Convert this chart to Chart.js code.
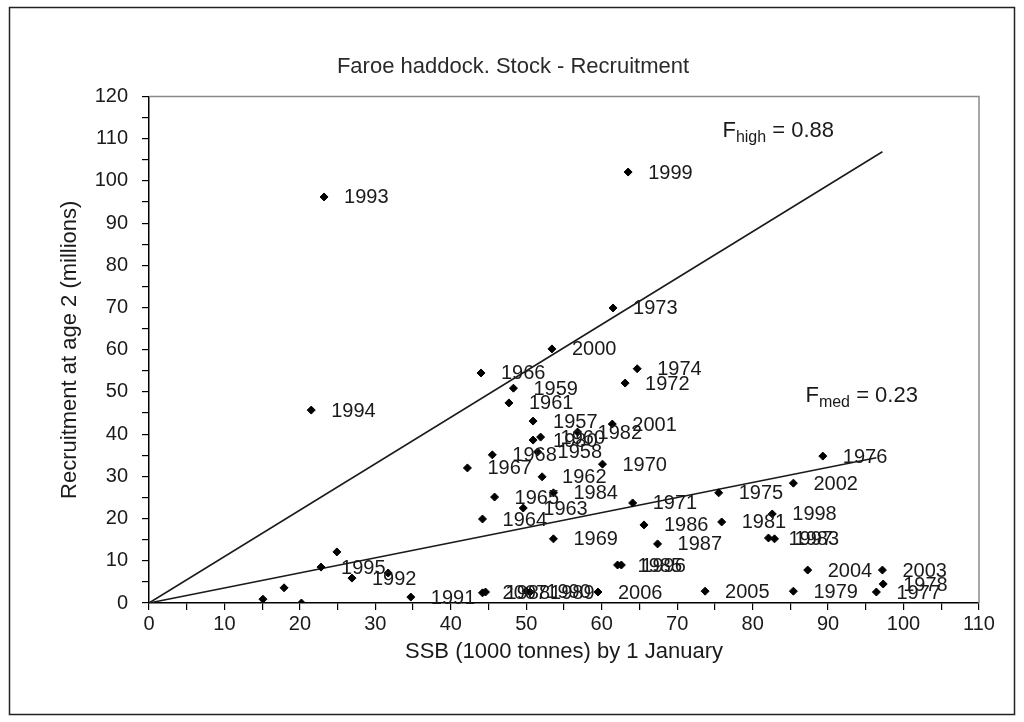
<!DOCTYPE html>
<html>
<head>
<meta charset="utf-8">
<title>Faroe haddock. Stock - Recruitment</title>
<script src="https://cdn.jsdelivr.net/npm/chart.js@4.4.1/dist/chart.umd.min.js"></script>
<style>
  html, body { margin: 0; padding: 0; background: #fff; }
  #wrap { width: 1024px; height: 722px; position: relative; }
</style>
</head>
<body>
<div id="wrap"><canvas id="chartCanvas"></canvas></div>
<script>
// Year of each point ('' = no label shown in the picture)
const years = [
  '1957', '1958', '1959', '1960', '1961', '1962', '1963', '1964', '1965', '1966',
  '1967', '1968', '1969', '1970', '1971', '1972', '1973', '1974', '1975', '1976',
  '1977', '1978', '1979', '1980', '1981', '1982', '1983', '1984', '1985', '1986',
  '1987', '1988', '1989', '1990', '1991', '1992', '1993', '1994', '1995', '1996',
  '1997', '1998', '1999', '2000', '2001', '2002', '2003', '2004', '2005', '2006',
  '2007', '', '', '', '', ''
];
// SSB (1000 tonnes)
const ssb = [
  50.9, 51.5, 48.3, 51.9, 47.7, 52.1, 49.6, 44.2, 45.8, 44.0,
  42.2, 45.5, 53.6, 60.1, 64.1, 63.1, 61.5, 64.7, 75.5, 89.3,
  96.4, 97.3, 85.4, 50.9, 75.9, 56.8, 82.9, 53.6, 62.1, 65.6,
  67.4, 44.6, 50.5, 50.0, 34.7, 26.9, 23.2, 21.5, 22.8, 62.6,
  82.1, 82.6, 63.5, 53.4, 61.4, 85.4, 97.2, 87.3, 73.7, 59.5,
  44.2, 31.7, 24.9, 17.9, 15.1, 20.2
];
// Recruitment at age 2 (millions)
const recruits = [
  43.1, 35.8, 50.9, 39.3, 47.4, 29.9, 22.5, 19.9, 25.1, 54.5,
  32.0, 35.1, 15.2, 32.9, 23.7, 52.1, 69.9, 55.5, 26.1, 34.8,
  2.6, 4.5, 2.8, 38.6, 19.2, 40.5, 15.2, 26.1, 9.0, 18.5,
  14.0, 2.6, 2.6, 2.8, 1.4, 5.9, 96.2, 45.7, 8.5, 9.0,
  15.4, 21.1, 102.1, 60.2, 42.4, 28.4, 7.8, 7.8, 2.8, 2.6,
  2.4, 7.1, 12.1, 3.6, 0.9, 0.0
];
// reference lines through the origin
const fHighSsb = [0, 97.2];
const fHighRec = [0, 106.9];
const fMedSsb = [0, 96.4];
const fMedRec = [0, 34.4];

const xMin = 0, xMax = 110, xStep = 5;
const yMin = 0, yMax = 120, yStep = 5;

const FONT = "'Liberation Sans', Arial, sans-serif";
const TEXT = '#1a1a1a';
const TITLE = 'Faroe haddock. Stock - Recruitment';

function toPoints(xs, ys) {
  return xs.map((x, i) => ({ x: x, y: ys[i] }));
}

// frame around the whole picture, the title, and grey top/right border of the plot
const framePlugin = {
  id: 'frame',
  beforeDraw(chart) {
    const ctx = chart.ctx;
    ctx.save();
    ctx.fillStyle = '#fff';
    ctx.fillRect(0, 0, chart.width, chart.height);
    ctx.strokeStyle = '#222';
    ctx.lineWidth = 1.5;
    ctx.strokeRect(9.5, 7.5, chart.width - 19, chart.height - 15);
    ctx.fillStyle = '#2a2a2a';
    ctx.font = '22px ' + FONT;
    ctx.textAlign = 'center';
    ctx.textBaseline = 'middle';
    ctx.fillText(TITLE, 513, 67);
    ctx.restore();
  },
  afterDraw(chart) {
    const { ctx, chartArea: a } = chart;
    ctx.save();
    ctx.strokeStyle = '#8a8a8a';
    ctx.lineWidth = 1.5;
    ctx.beginPath();
    ctx.moveTo(a.left, a.top);
    ctx.lineTo(a.right, a.top);
    ctx.lineTo(a.right, a.bottom);
    ctx.stroke();
    ctx.restore();
  }
};

// year labels to the right of each point, and the F labels
const labelPlugin = {
  id: 'yearLabels',
  afterDatasetsDraw(chart) {
    const ctx = chart.ctx;
    const meta = chart.getDatasetMeta(0);
    ctx.save();
    ctx.fillStyle = TEXT;
    ctx.font = '20px ' + FONT;
    ctx.textAlign = 'left';
    ctx.textBaseline = 'middle';
    meta.data.forEach((pt, i) => {
      if (years[i]) ctx.fillText(years[i], pt.x + 20, pt.y + 1);
    });

    const xs = chart.scales.x, ys = chart.scales.y;
    function fLabel(sub, rest, xv, yv) {
      let px = xs.getPixelForValue(xv);
      const py = ys.getPixelForValue(yv);
      ctx.textBaseline = 'alphabetic';
      ctx.font = '22px ' + FONT;
      ctx.fillText('F', px, py);
      px += ctx.measureText('F').width;
      ctx.font = '16px ' + FONT;
      ctx.fillText(sub, px, py + 5);
      px += ctx.measureText(sub).width;
      ctx.font = '22px ' + FONT;
      ctx.fillText(rest, px, py);
    }
    fLabel('high', ' = 0.88', 76.0, 110.4);
    fLabel('med', ' = 0.23', 87.0, 47.6);
    ctx.restore();
  }
};

const ctx = document.getElementById('chartCanvas').getContext('2d');
new Chart(ctx, {
  type: 'scatter',
  data: {
    datasets: [
      {
        label: 'Stock - Recruitment',
        data: toPoints(ssb, recruits),
        pointStyle: 'rectRot',
        pointRadius: 4,
        pointBackgroundColor: '#000',
        pointBorderColor: '#000',
        pointBorderWidth: 1,
        showLine: false
      },
      {
        label: 'Fhigh = 0.88',
        data: toPoints(fHighSsb, fHighRec),
        showLine: true,
        borderColor: '#1a1a1a',
        borderWidth: 1.6,
        pointRadius: 0
      },
      {
        label: 'Fmed = 0.23',
        data: toPoints(fMedSsb, fMedRec),
        showLine: true,
        borderColor: '#1a1a1a',
        borderWidth: 1.6,
        pointRadius: 0
      }
    ]
  },
  options: {
    responsive: true,
    maintainAspectRatio: false,
    animation: false,
    layout: { padding: { left: 10, top: 96.5, right: 45, bottom: 10 } },
    plugins: {
      legend: { display: false },
      tooltip: { enabled: false },
      title: { display: false }
    },
    scales: {
      x: {
        type: 'linear',
        min: xMin,
        max: xMax,
        afterFit(scale) { scale.height = 109; },
        border: { display: true, color: '#000', width: 1.5 },
        grid: { drawOnChartArea: false, drawTicks: true, tickLength: 7, color: '#000', lineWidth: 1.2 },
        ticks: {
          stepSize: xStep,
          autoSkip: false,
          maxRotation: 0,
          padding: 2,
          color: TEXT,
          font: { family: FONT, size: 20 },
          callback: (v) => (v % 10 === 0 ? v : '')
        },
        title: {
          display: true,
          text: 'SSB (1000 tonnes) by 1 January',
          color: TEXT,
          font: { family: FONT, size: 22 },
          padding: { top: 10, bottom: 47 }
        }
      },
      y: {
        type: 'linear',
        min: yMin,
        max: yMax,
        afterFit(scale) { scale.width = 139; },
        border: { display: true, color: '#000', width: 1.5 },
        grid: { drawOnChartArea: false, drawTicks: true, tickLength: 7, color: '#000', lineWidth: 1.2 },
        ticks: {
          stepSize: yStep,
          autoSkip: false,
          padding: 14,
          color: TEXT,
          font: { family: FONT, size: 20 },
          callback: (v) => (v % 10 === 0 ? v : '')
        },
        title: {
          display: true,
          text: 'Recruitment at age 2 (millions)',
          color: TEXT,
          font: { family: FONT, size: 22 },
          padding: { top: 47, bottom: 10 }
        }
      }
    }
  },
  plugins: [framePlugin, labelPlugin]
});
</script>
</body>
</html>
